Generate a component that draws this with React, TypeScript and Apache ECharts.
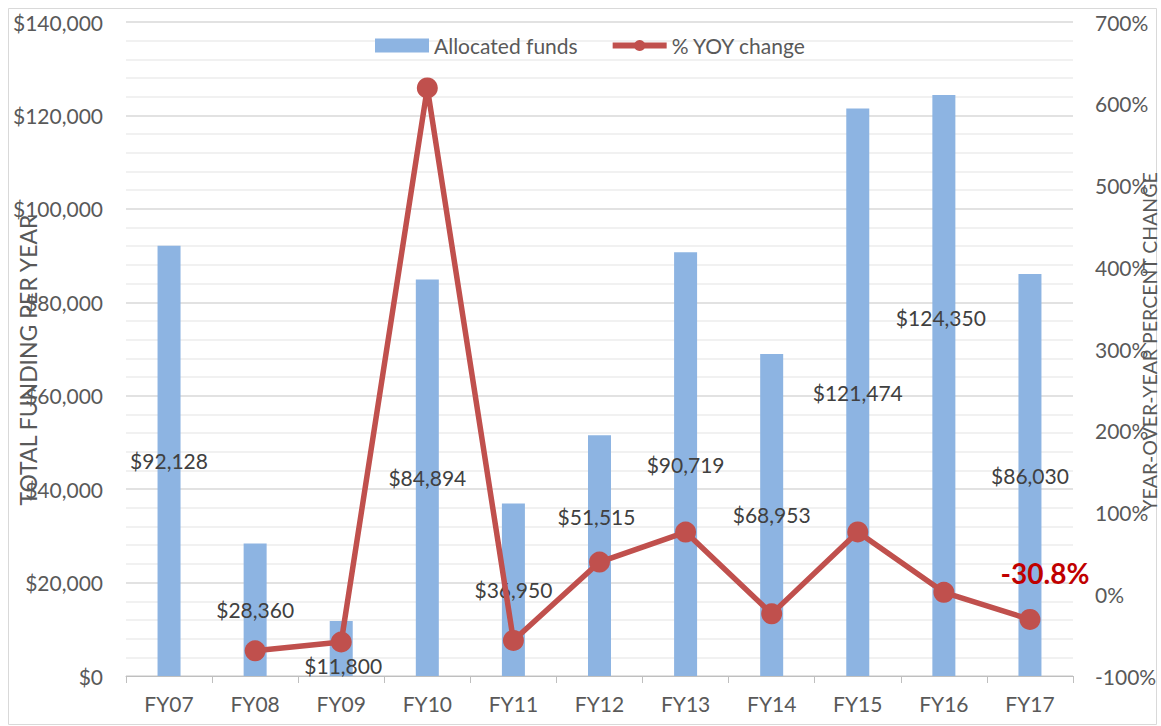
import React, { useEffect, useRef } from "react";
import * as echarts from "echarts";

const categories = ["FY07", "FY08", "FY09", "FY10", "FY11", "FY12", "FY13", "FY14", "FY15", "FY16", "FY17"];
const allocatedFunds = [92128, 28360, 11800, 84894, 36950, 51515, 90719, 68953, 121474, 124350, 86030];
const yoyChange: (number | null)[] = [null, -69.2, -58.4, 619.4, -56.5, 39.4, 76.1, -24.0, 76.2, 2.4, -30.8];
const leftAxis = { min: 0, max: 140000, interval: 20000 };
const rightAxis = { min: -100, max: 700, interval: 100 };
const seriesNames = ["Allocated funds", "% YOY change"];
const axisTitles = ["TOTAL FUNDING PER YEAR", "YEAR-OVER-YEAR PERCENT CHANGE"];
const highlightedIndex = 10;

// manual nudges of some data labels (as moved in the original)
const barLabelNudge: Record<number, [number, number]> = {
  2: [2, 17],
  5: [-3, -39],
  9: [-3, -68],
};

const FONT = "Lato, 'Open Sans', sans-serif";
const TEXT = "#595959";

const money = (v: number) => "$" + Math.round(v).toLocaleString("en-US");

export default function App() {
  const ref = useRef<HTMLDivElement>(null);
  useEffect(() => {
    if (!ref.current) return;
    const chart = echarts.init(ref.current, null, { renderer: "svg" });
    const barData = allocatedFunds.map((v, i) =>
      barLabelNudge[i] ? { value: v, label: { offset: barLabelNudge[i] } } : { value: v }
    );
    const lineData = yoyChange.map((v, i) =>
      i === highlightedIndex
        ? {
            value: v,
            label: {
              show: true,
              position: "inside",
              offset: [15, -46],
              formatter: (p: any) => Number(p.value).toFixed(1) + "%",
              fontSize: 28,
              fontWeight: "bold",
              color: "#C00000",
              fontFamily: FONT,
            },
          }
        : { value: v === null ? "-" : v }
    );
    chart.setOption({
      animation: false,
      backgroundColor: "#ffffff",
      textStyle: { fontFamily: FONT },
      grid: { left: 126, right: 88, top: 22, bottom: 50 },
      legend: {
        left: 370,
        top: 30,
        itemWidth: 54,
        itemHeight: 14,
        itemGap: 32,
        textStyle: { fontSize: 21, color: TEXT, fontFamily: FONT },
        data: [
          { name: seriesNames[0], icon: "rect" },
          { name: seriesNames[1], itemStyle: { color: "#C0504D" }, lineStyle: { width: 6, color: "#C0504D" } },
        ],
      },
      graphic: [
        {
          type: "rect",
          z: -10,
          shape: { x: 8.5, y: 8.5, width: 1148, height: 716 },
          style: { fill: "none", stroke: "#D9D9D9", lineWidth: 1 },
        },
        {
          type: "text",
          x: 28,
          y: 360,
          rotation: Math.PI / 2,
          style: {
            text: axisTitles[0],
            fontSize: 23,
            fontFamily: FONT,
            fill: TEXT,
            align: "center",
            verticalAlign: "middle",
          },
        },
        {
          type: "text",
          x: 1149,
          y: 342,
          rotation: Math.PI / 2,
          style: {
            text: axisTitles[1],
            fontSize: 19.5,
            fontFamily: FONT,
            fill: TEXT,
            align: "center",
            verticalAlign: "middle",
          },
        },
      ],
      xAxis: {
        type: "category",
        data: categories,
        boundaryGap: true,
        axisLine: { lineStyle: { color: "#BFBFBF", width: 1 } },
        axisTick: { show: true, length: 7, lineStyle: { color: "#BFBFBF" } },
        axisLabel: { color: TEXT, fontSize: 21, margin: 17, fontFamily: FONT },
      },
      yAxis: [
        {
          type: "value",
          min: leftAxis.min,
          max: leftAxis.max,
          interval: leftAxis.interval,
          axisLine: { show: false },
          axisTick: { show: false },
          axisLabel: { color: TEXT, fontSize: 21, margin: 23, formatter: (v: number) => money(v), fontFamily: FONT },
          splitLine: { show: true, lineStyle: { color: "#D9D9D9", width: 1.5 } },
          minorTick: { show: false, splitNumber: 5 },
          minorSplitLine: { show: true, lineStyle: { color: "#EDEDED", width: 1.5 } },
        },
        {
          type: "value",
          min: rightAxis.min,
          max: rightAxis.max,
          interval: rightAxis.interval,
          axisLine: { show: false },
          axisTick: { show: false },
          splitLine: { show: false },
          axisLabel: { color: TEXT, fontSize: 21, margin: 22, formatter: (v: number) => v + "%", fontFamily: FONT },
        },
      ],
      series: [
        {
          name: seriesNames[0],
          type: "bar",
          yAxisIndex: 0,
          data: barData,
          barWidth: 23,
          itemStyle: { color: "#8DB4E2" },
          label: {
            show: true,
            position: "inside",
            color: "#404040",
            fontSize: 21,
            fontFamily: FONT,
            formatter: (p: any) => money(p.value),
          },
        },
        {
          name: seriesNames[1],
          type: "line",
          yAxisIndex: 1,
          data: lineData,
          symbol: "circle",
          symbolSize: 21,
          z: 5,
          lineStyle: { color: "#C0504D", width: 5.5 },
          itemStyle: { color: "#C0504D" },
        },
      ],
    });
    return () => chart.dispose();
  }, []);
  return (
    <div
      ref={ref}
      style={{ position: "fixed", left: 0, top: 0, width: 1161, height: 726, background: "#fff" }}
    />
  );
}
